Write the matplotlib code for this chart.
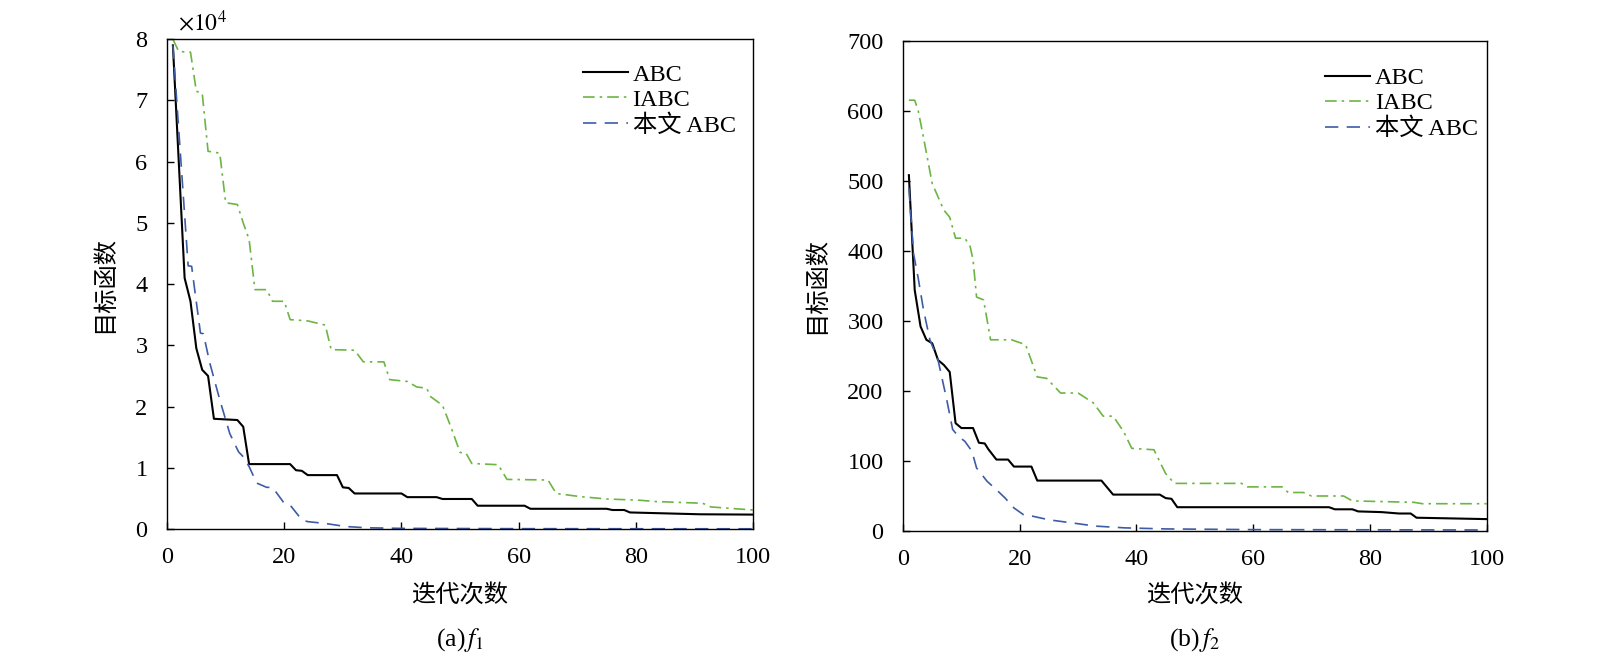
import matplotlib
matplotlib.use("Agg")
import matplotlib.pyplot as plt

plt.rcParams['font.family'] = ['Liberation Serif', 'Noto Sans CJK SC']
plt.rcParams['mathtext.fontset'] = 'stix'

# f1 curves (values in units of 1e4) at breakpoints
f1_abc_x = [1, 3, 4, 5, 6, 7, 8, 12, 13, 14, 21, 22, 23, 24, 29, 30, 31, 32, 40, 41,
            46, 47, 52, 53, 61, 62, 75, 76, 78, 79, 83, 91, 100]
f1_abc_y = [7.9, 4.1, 3.72, 2.95, 2.6, 2.5, 1.8, 1.78, 1.67, 1.06, 1.06, 0.96, 0.95, 0.88,
            0.88, 0.68, 0.67, 0.58, 0.58, 0.52, 0.52, 0.49, 0.49, 0.38, 0.38, 0.33,
            0.33, 0.31, 0.31, 0.27, 0.26, 0.24, 0.235]

f1_iabc_x = [1, 2, 4, 5, 6, 7, 9, 10, 12, 13, 14, 15, 17, 18, 20, 21, 24, 27, 28, 32,
             33.5, 37, 38, 41, 42.6, 44.3, 45, 47, 48.5, 50, 51, 52, 56.5, 58, 65, 66.4,
             70.4, 75, 80.6, 83, 91.4, 92.8, 100]
f1_iabc_y = [8.0, 7.8, 7.79, 7.15, 7.12, 6.17, 6.14, 5.33, 5.3, 5.0, 4.73, 3.91, 3.91,
             3.72, 3.72, 3.42, 3.4, 3.33, 2.93, 2.92, 2.73, 2.73, 2.44, 2.41, 2.32, 2.3,
             2.16, 2.02, 1.65, 1.25, 1.24, 1.07, 1.05, 0.81, 0.8, 0.58, 0.53, 0.49, 0.47,
             0.45, 0.42, 0.36, 0.31]

f1_ours_x = [1, 3.6, 4.2, 4.8, 5.7, 6.2, 7.3, 9, 10.7, 12.2, 13, 14, 15.3, 17, 18, 20, 21,
             23, 24, 27, 30.5, 34, 40, 60, 100]
f1_ours_y = [7.9, 4.3, 4.29, 3.85, 3.2, 3.19, 2.71, 2.11, 1.56, 1.26, 1.18, 1.02, 0.75,
             0.68, 0.68, 0.42, 0.39, 0.15, 0.12, 0.09, 0.04, 0.02, 0.01, 0.005, 0.003]

# f2 curves
f2_abc_x = [1, 2, 3, 4, 5, 6, 7, 8, 9, 10, 12, 13, 14, 14.6, 16, 18, 19, 22, 23, 34, 36,
            44, 45, 46, 47, 73, 74, 77, 78, 82, 85, 87, 88, 100]
f2_abc_y = [508, 344, 292, 273, 268, 244, 237, 227, 154, 147, 147, 126, 125, 117, 102, 102,
            92, 92, 72, 72, 52, 52, 47, 46, 34, 34, 31, 31, 28, 27, 25, 25, 19, 17]

f2_iabc_x = [1, 2, 2.6, 3.5, 5, 6, 7, 8, 9, 10.6, 11.5, 12, 12.6, 13.8, 15, 18.6, 21, 23,
             24.6, 27, 30, 32.6, 34.3, 36, 37.8, 39.2, 43, 45, 46.5, 58, 59, 65, 66, 68.6,
             70, 75.5, 77, 87.5, 89, 100]
f2_iabc_y = [615, 615, 600, 562, 496, 477, 458, 448, 418, 418, 406, 387, 334, 330, 273,
             273, 266, 220, 218, 197, 197, 183, 164, 164, 142, 118, 116, 82, 68, 68, 63,
             63, 55, 55, 50, 50, 43, 41, 39, 39]

f2_ours_x = [1, 1.8, 2.6, 3.5, 4.6, 6, 7.5, 8.5, 9.5, 10.6, 11.8, 12.6, 14.4, 16, 17.5,
             19, 20.6, 22.3, 25, 28.6, 33, 38, 45, 60, 100]
f2_ours_y = [490, 396, 361, 316, 273, 244, 187, 145, 135, 128, 114, 90, 71, 59, 47, 33,
             23.5, 21, 16, 12, 7, 4.5, 3, 2, 1.5]

labels = ['ABC', 'IABC', '本文 ABC']
black = '#000000'
green = '#6cb544'
blue = '#3d5ca6'

fig = plt.figure(figsize=(16, 6.59), dpi=100)
ax1 = fig.add_axes([0.1044, 0.1973, 0.3663, 0.7431])
ax2 = fig.add_axes([0.5644, 0.1942, 0.3647, 0.7441])


def draw(ax, abc, iabc, ours):
    ax.plot(abc[0], abc[1], color=black, lw=1.5, label=labels[0])
    ax.plot(iabc[0], iabc[1], color=green, lw=1.2, ls=(0, (7, 3, 1.5, 3)), label=labels[1])
    ax.plot(ours[0], ours[1], color=blue, lw=1.2, ls=(0, (8, 5)), label=labels[2])
    ax.set_xlim(0, 100)
    ax.set_xticks([0, 20, 40, 60, 80, 100])
    for s in ax.spines.values():
        s.set_linewidth(1.0)
    ax.tick_params(direction='in', length=5, width=1.0, labelsize=17.5,
                   top=False, right=False)
    ax.tick_params(axis='x', pad=13)
    ax.tick_params(axis='y', pad=14)
    ax.set_ylabel('目标函数', fontsize=17.5, labelpad=14)


draw(ax1, (f1_abc_x, f1_abc_y), (f1_iabc_x, f1_iabc_y), (f1_ours_x, f1_ours_y))
ax1.set_ylim(0, 8)
ax1.set_yticks(range(0, 9))
ax1.text(0.018, 1.033, r'$\times10^4$', transform=ax1.transAxes, fontsize=17,
         va='center', ha='left')
ax1.legend(loc='upper right', bbox_to_anchor=(0.97, 0.95), frameon=False,
           fontsize=17.5, borderpad=0, borderaxespad=0, handlelength=1.85,
           handletextpad=0.2, labelspacing=0.13)

draw(ax2, (f2_abc_x, f2_abc_y), (f2_iabc_x, f2_iabc_y), (f2_ours_x, f2_ours_y))
ax2.set_ylim(0, 700)
ax2.set_yticks(range(0, 701, 100))
ax2.legend(loc='upper right', bbox_to_anchor=(0.985, 0.946), frameon=False,
           fontsize=17.5, borderpad=0, borderaxespad=0, handlelength=1.85,
           handletextpad=0.2, labelspacing=0.13)

fig.text(0.2875, 0.0956, '迭代次数', ha='center', va='center', fontsize=17.5)
fig.text(0.7466, 0.0956, '迭代次数', ha='center', va='center', fontsize=17.5)
fig.text(0.2875, 0.029, r'(a)$\,f_1$', ha='center', va='center', fontsize=18.5)
fig.text(0.7466, 0.029, r'(b)$\,f_2$', ha='center', va='center', fontsize=18.5)

fig.savefig('out.png', dpi=100)
